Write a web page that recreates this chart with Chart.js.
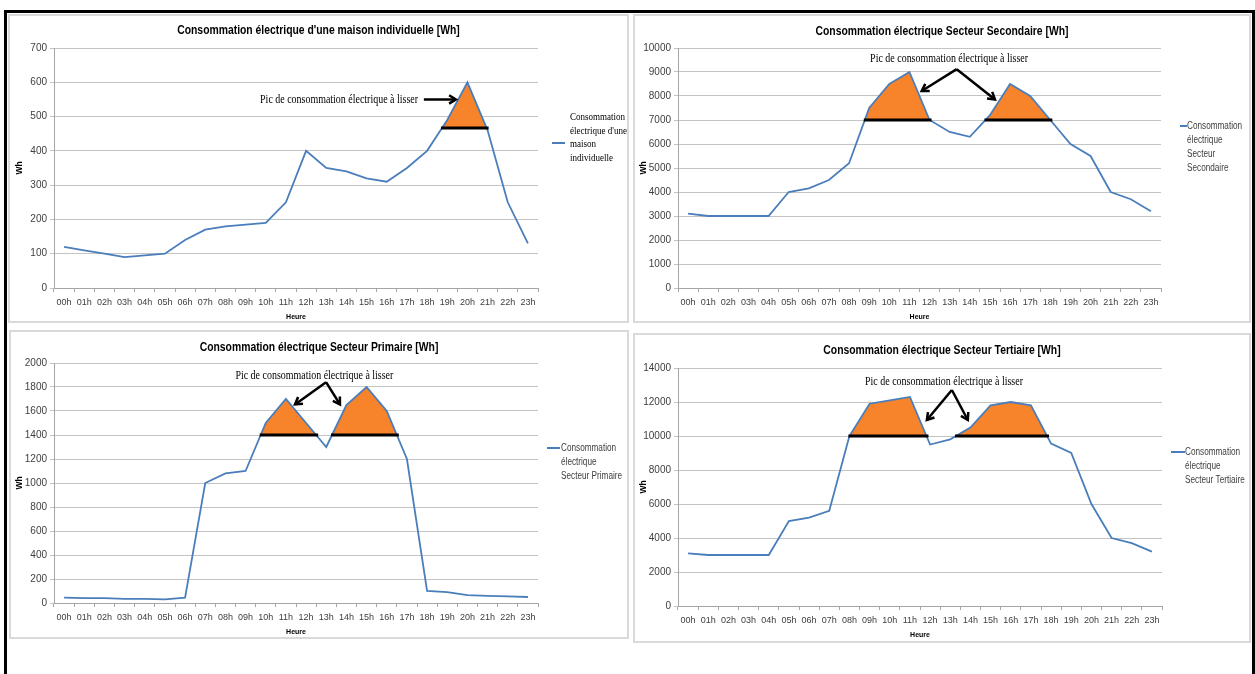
<!DOCTYPE html>
<html>
<head>
<meta charset="utf-8">
<script src="https://cdn.jsdelivr.net/npm/chart.js@4.4.1/dist/chart.umd.min.js"></script>
<style>
html, body { margin: 0; padding: 0; background: #fff; width: 1255px; height: 674px; overflow: hidden; position: relative; }
#cadre { position: absolute; left: 4px; top: 10px; width: 1245px; height: 700px; border: 3px solid #000; }
.panel { position: absolute; border: 2px solid #d9d9d9; background: #fff; }
.panel canvas { display: block; }
</style>
</head>
<body>
<div id="cadre"></div>
<div class="panel" style="left:8px;top:14px;width:617px;height:305px"><canvas id="chartMaison" width="617" height="305"></canvas></div>
<div class="panel" style="left:633px;top:14px;width:614px;height:305px"><canvas id="chartSecondaire" width="614" height="305"></canvas></div>
<div class="panel" style="left:9px;top:330px;width:616px;height:305px"><canvas id="chartPrimaire" width="616" height="305"></canvas></div>
<div class="panel" style="left:633px;top:333px;width:614px;height:306px"><canvas id="chartTertiaire" width="614" height="306"></canvas></div>

<script>
// données (Wh par heure)
const heures = ['00h', '01h', '02h', '03h', '04h', '05h', '06h', '07h', '08h', '09h', '10h', '11h',
    '12h', '13h', '14h', '15h', '16h', '17h', '18h', '19h', '20h', '21h', '22h', '23h'];

const consoMaison = [120, 110, 100, 90, 95, 100, 140, 170, 180, 185, 190, 250,
    400, 350, 340, 320, 310, 350, 400, 490, 600, 460, 250, 130];
const consoSecondaire = [3100, 3000, 3000, 3000, 3000, 4000, 4150, 4500, 5200, 7500, 8500, 9000,
    7000, 6500, 6300, 7200, 8500, 8000, 7000, 6000, 5500, 4000, 3700, 3200];
const consoPrimaire = [45, 40, 40, 35, 35, 30, 45, 1000, 1080, 1100, 1500, 1700,
    1500, 1300, 1650, 1800, 1600, 1200, 100, 90, 65, 60, 55, 50];
const consoTertiaire = [3100, 3000, 3000, 3000, 3000, 5000, 5200, 5600, 10000, 11900, 12100, 12300,
    9500, 9800, 10500, 11800, 12000, 11800, 9550, 9000, 6000, 4000, 3700, 3200];

// niveau au-dessus duquel le pic est à lisser
const seuilMaison = 466.7;
const seuilSecondaire = 7000;
const seuilPrimaire = 1400;
const seuilTertiaire = 10000;

const texteAnnotation = 'Pic de consommation électrique à lisser';

const BLEU = '#4A7EBB';
const ORANGE = '#F7832A';
const SANS = "'Liberation Sans', Arial, sans-serif";
const SERIF = "'Liberation Serif', 'DejaVu Serif', serif";

function segmentsAuDessus(vals, seuil) {
    let segs = [];
    let debut = null;
    for (let k = 0; k < vals.length; k++) {
        let v = vals[k];
        if (v >= seuil && debut === null) {
            if (k === 0 || vals[k - 1] >= seuil) debut = k;
            else debut = k - 1 + (seuil - vals[k - 1]) / (v - vals[k - 1]);
        } else if (v < seuil && debut !== null) {
            let fin = k - 1 + (vals[k - 1] - seuil) / (vals[k - 1] - v);
            segs.push([debut, fin]);
            debut = null;
        }
    }
    if (debut !== null) segs.push([debut, vals.length - 1]);
    return segs;
}

// le graphique d'origine est tassé horizontalement : on compresse le texte
function texteCompresse(ctx, txt, x, y, sx, align) {
    ctx.save();
    ctx.translate(x, y);
    ctx.scale(sx, 1);
    ctx.textAlign = align;
    ctx.textBaseline = 'middle';
    ctx.fillText(txt, 0, 0);
    ctx.restore();
}

function fleche(ctx, x0, y0, x1, y1) {
    let ang = Math.atan2(y1 - y0, x1 - x0);
    let l = 8;
    ctx.beginPath();
    ctx.moveTo(x0, y0);
    ctx.lineTo(x1, y1);
    ctx.stroke();
    ctx.beginPath();
    ctx.moveTo(x1 - l * Math.cos(ang - 0.55), y1 - l * Math.sin(ang - 0.55));
    ctx.lineTo(x1, y1);
    ctx.lineTo(x1 - l * Math.cos(ang + 0.55), y1 - l * Math.sin(ang + 0.55));
    ctx.stroke();
}

const titrePlugin = {
    id: 'titreExcel',
    afterDraw(chart, args, opts) {
        const ctx = chart.ctx;
        ctx.save();
        ctx.fillStyle = '#000';
        ctx.font = 'bold 12.5px ' + SANS;
        texteCompresse(ctx, opts.texte, chart.width / 2, opts.y, 0.83, 'center');
        ctx.restore();
    }
};

// trait noir sous les pics + texte + flèches
const picsPlugin = {
    id: 'pics',
    afterDatasetsDraw(chart, args, opts) {
        const ctx = chart.ctx;
        const xs = chart.scales.x, ys = chart.scales.y;
        const vals = chart.data.datasets[0].data;
        const yS = ys.getPixelForValue(opts.seuil);
        ctx.save();
        ctx.strokeStyle = '#000';
        ctx.lineWidth = 3;
        segmentsAuDessus(vals, opts.seuil).forEach(s => {
            ctx.beginPath();
            ctx.moveTo(xs.getPixelForValue(s[0]) - 1, yS);
            ctx.lineTo(xs.getPixelForValue(s[1]) + 2, yS);
            ctx.stroke();
        });

        ctx.fillStyle = '#000';
        ctx.font = '12px ' + SERIF;
        texteCompresse(ctx, opts.texte, xs.getPixelForValue(opts.texteA.i), ys.getPixelForValue(opts.texteA.v), 0.83, opts.texteA.align);

        ctx.lineWidth = 2.5;
        ctx.lineJoin = 'miter';
        opts.fleches.forEach(f => {
            fleche(ctx, xs.getPixelForValue(f.de.i), ys.getPixelForValue(f.de.v),
                xs.getPixelForValue(f.a.i), ys.getPixelForValue(f.a.v));
        });
        ctx.restore();
    }
};

// légende façon Excel, texte sur plusieurs lignes
const legendePlugin = {
    id: 'legendeExcel',
    afterDraw(chart, args, opts) {
        const ctx = chart.ctx;
        const r = chart.chartArea.right;
        ctx.save();
        ctx.strokeStyle = BLEU;
        ctx.lineWidth = 2;
        ctx.beginPath();
        ctx.moveTo(r + opts.trait[0], opts.traitY);
        ctx.lineTo(r + opts.trait[1], opts.traitY);
        ctx.stroke();
        ctx.fillStyle = opts.couleur;
        ctx.font = opts.police;
        opts.lignes.forEach((l, k) => {
            texteCompresse(ctx, l, r + opts.texteX, opts.texteY + k * opts.interligne, opts.sx, 'left');
        });
        ctx.restore();
    }
};

function drawChart(elementId, titre, valeurs, seuil, yMax, yStep, mise, pics, legende) {
    const canvas = document.getElementById(elementId);
    const ctx = canvas.getContext('2d');
    const hautX = 33;

    const data = {
        labels: heures,
        datasets: [{
            label: legende.lignes.join(' '),
            data: valeurs,
            borderColor: BLEU,
            borderWidth: 1.8,
            pointRadius: 0,
            tension: 0,
            fill: {
                target: {value: seuil},
                above: ORANGE,
                below: 'rgba(0,0,0,0)'
            }
        }]
    };

    const options = {
        responsive: false,
        animation: false,
        layout: {
            padding: {
                left: mise.left - 40,
                right: canvas.width - mise.right,
                top: mise.top,
                bottom: canvas.height - mise.bottom - hautX
            }
        },
        scales: {
            x: {
                offset: true,
                afterFit: function (scale) { scale.height = hautX; },
                grid: {offset: true, drawOnChartArea: false, drawTicks: true, tickLength: 4, color: '#a6a6a6'},
                border: {display: true, color: '#a6a6a6'},
                ticks: {maxRotation: 0, autoSkip: false, padding: 5, color: '#404040', font: {family: SANS, size: 9}},
                title: {display: true, text: 'Heure', color: '#000', padding: {top: 2, bottom: 0},
                    font: {family: SANS, size: 7, weight: 'bold'}}
            },
            y: {
                min: 0,
                max: yMax,
                afterFit: function (scale) { scale.width = 40; },
                grid: {color: '#c4c4c4', tickLength: 4, drawTicks: true},
                border: {display: true, color: '#a6a6a6'},
                ticks: {
                    stepSize: yStep, autoSkip: false, padding: 3, color: '#404040',
                    font: {family: SANS, size: 10},
                    callback: function (value) { return String(value); }
                },
                title: {display: true, text: 'Wh', color: '#000', padding: {top: 1, bottom: 0},
                    font: {family: SANS, size: 8.5, weight: 'bold'}}
            }
        },
        plugins: {
            legend: {display: false},
            tooltip: {enabled: false},
            titreExcel: {texte: titre, y: mise.titreY},
            pics: pics,
            legendeExcel: legende
        }
    };

    new Chart(ctx, {
        type: 'line',
        data: data,
        options: options,
        plugins: [titrePlugin, picsPlugin, legendePlugin]
    });
}

drawChart('chartMaison', "Consommation électrique d'une maison individuelle [Wh]", consoMaison, seuilMaison, 700, 100,
    {left: 44, right: 528, top: 32, bottom: 272, titreY: 15},
    {seuil: seuilMaison, texte: texteAnnotation, texteA: {i: 17.55, v: 550, align: 'right'},
        fleches: [{de: {i: 17.84, v: 550}, a: {i: 19.43, v: 550}}]},
    {lignes: ['Consommation', "électrique d'une", 'maison', 'individuelle'], trait: [14, 27], traitY: 127,
        texteX: 32, texteY: 101, interligne: 13.8, couleur: '#000', police: '11px ' + SERIF, sx: 0.82});

drawChart('chartSecondaire', 'Consommation électrique Secteur Secondaire [Wh]', consoSecondaire, seuilSecondaire, 10000, 1000,
    {left: 43, right: 526, top: 32, bottom: 272, titreY: 16},
    {seuil: seuilSecondaire, texte: texteAnnotation, texteA: {i: 12.97, v: 9538, align: 'center'},
        fleches: [{de: {i: 13.35, v: 9118}, a: {i: 11.61, v: 8206}}, {de: {i: 13.35, v: 9118}, a: {i: 15.25, v: 7857}}]},
    {lignes: ['Consommation', 'électrique', 'Secteur', 'Secondaire'], trait: [19, 26], traitY: 110,
        texteX: 26, texteY: 110, interligne: 14, couleur: '#404040', police: '10px ' + SANS, sx: 0.82});

drawChart('chartPrimaire', 'Consommation électrique Secteur Primaire [Wh]', consoPrimaire, seuilPrimaire, 2000, 200,
    {left: 43, right: 527, top: 31, bottom: 271, titreY: 16},
    {seuil: seuilPrimaire, texte: texteAnnotation, texteA: {i: 12.41, v: 1891, align: 'center'},
        fleches: [{de: {i: 12.99, v: 1840}, a: {i: 11.45, v: 1655}}, {de: {i: 12.99, v: 1840}, a: {i: 13.68, v: 1655}}]},
    {lignes: ['Consommation', 'électrique', 'Secteur Primaire'], trait: [9, 22], traitY: 116,
        texteX: 23, texteY: 116, interligne: 14, couleur: '#404040', police: '10px ' + SANS, sx: 0.82});

drawChart('chartTertiaire', 'Consommation électrique Secteur Tertiaire [Wh]', consoTertiaire, seuilTertiaire, 14000, 2000,
    {left: 43, right: 527, top: 33, bottom: 271, titreY: 16},
    {seuil: seuilTertiaire, texte: texteAnnotation, texteA: {i: 12.69, v: 13176, align: 'center'},
        fleches: [{de: {i: 13.08, v: 12706}, a: {i: 11.84, v: 10941}}, {de: {i: 13.08, v: 12706}, a: {i: 13.87, v: 10941}}]},
    {lignes: ['Consommation', 'électrique', 'Secteur Tertiaire'], trait: [9, 23], traitY: 117,
        texteX: 23, texteY: 117, interligne: 14, couleur: '#404040', police: '10px ' + SANS, sx: 0.82});
</script>
</body>
</html>
